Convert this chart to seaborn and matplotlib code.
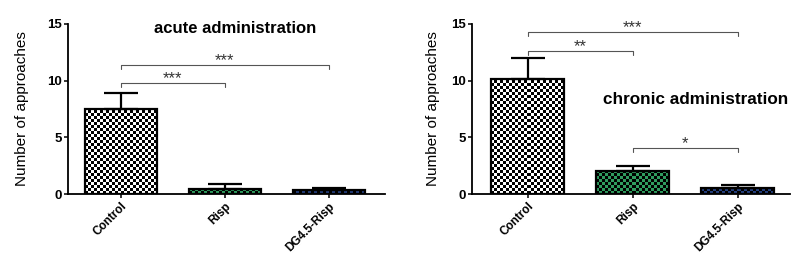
import matplotlib
matplotlib.use('Agg')
import matplotlib.pyplot as plt
import numpy as np
import seaborn as sns

groups = ['Control', 'Risp', 'DG4.5-Risp']

acute_means = [7.5, 0.47, 0.33]
acute_errs = [1.45, 0.41, 0.17]
chronic_means = [10.15, 2.03, 0.56]
chronic_errs = [1.88, 0.47, 0.24]

# (from, to, bracket height, label)
acute_sig = [(0, 1, 9.8, '***'), (0, 2, 11.4, '***')]
chronic_sig = [(0, 2, 14.3, '***'), (0, 1, 12.65, '**'), (1, 2, 4.1, '*')]

face = ['#ffffff', '#2f9c5e', '#24407f']

sns.set_style('ticks')
plt.rcParams['font.family'] = ['Liberation Sans', 'DejaVu Sans']
plt.rcParams['text.color'] = 'black'
plt.rcParams['axes.labelcolor'] = 'black'
plt.rcParams['xtick.color'] = 'black'
plt.rcParams['ytick.color'] = 'black'

fig = plt.figure(figsize=(8, 2.63), dpi=100)
ax1 = fig.add_axes([0.085, 0.262, 0.396, 0.647])
ax2 = fig.add_axes([0.59, 0.262, 0.3975, 0.647])


def checker(ax, patch, color, cell_px=3.0):
    x0, y0 = patch.get_x(), patch.get_y()
    w, h = patch.get_width(), patch.get_height()
    bb = ax.get_window_extent()
    xl, yl = ax.get_xlim(), ax.get_ylim()
    pxx = bb.width / (xl[1] - xl[0])
    pxy = bb.height / (yl[1] - yl[0])
    nx = max(1, int(round(w * pxx / cell_px)))
    ny = max(1, int(round(h * pxy / cell_px)))
    ii, jj = np.meshgrid(np.arange(nx), np.arange(ny))
    mask = (ii + jj) % 2 == 0
    c = np.array(matplotlib.colors.to_rgb(color))
    img = np.zeros((ny, nx, 3))
    img[~mask] = c
    ax.imshow(img, extent=[x0, x0 + w, y0, y0 + ny * cell_px / pxy],
              origin='lower', interpolation='nearest', aspect='auto',
              clip_path=patch, zorder=1.5)


def panel(ax, means, errs, sig, xlim):
    sns.barplot(x=groups, y=means, hue=groups, palette=face, legend=False,
                errorbar=None, width=0.69, edgecolor='black', linewidth=1.6,
                ax=ax, zorder=2)
    ax.set_xlim(*xlim)
    ax.set_ylim(0, 15)
    xs = []
    for p, col in zip(ax.patches, face):
        xs.append(p.get_x() + p.get_width() / 2)
        checker(ax, p, col)
        p.set_facecolor('none')
        p.set_zorder(2)
    ax.set_xlim(*xlim)
    ax.set_ylim(0, 15)
    ax.errorbar(xs, means, yerr=[np.zeros(len(errs)), errs], fmt='none',
                ecolor='black', elinewidth=1.6, capsize=12.5, capthick=1.6,
                zorder=3)
    for i, j, y, lab in sig:
        ax.plot([xs[i], xs[i], xs[j], xs[j]], [y - 0.35, y, y, y - 0.35],
                color='#555555', lw=0.8, clip_on=False)
        ax.text((xs[i] + xs[j]) / 2, y - 0.05, lab, ha='center', va='baseline',
                fontsize=12, color='#333333', clip_on=False)
    sns.despine(ax=ax)
    for s in ('left', 'bottom'):
        ax.spines[s].set_linewidth(1.3)
        ax.spines[s].set_color('black')
    ax.set_yticks([0, 5, 10, 15])
    ax.tick_params(axis='both', length=3, width=1.1, color='black', pad=1.5)
    ax.tick_params(axis='y', labelsize=9.5)
    ax.tick_params(axis='x', labelsize=8.5)
    for t in ax.get_yticklabels():
        t.set_fontweight('bold')
    ax.set_xticks(range(len(groups)))
    ax.set_xticklabels(groups, rotation=45, ha='right', rotation_mode='anchor',
                       fontweight='bold')
    ax.set_ylabel('Number of approaches', fontsize=11)
    return xs


panel(ax1, acute_means, acute_errs, acute_sig, (-0.51, 2.54))
ax1.yaxis.set_label_coords(-0.123, 0.5)
ax1.text(1.1, 14.6, 'acute administration', ha='center', va='center',
         fontsize=12, fontweight='bold')

panel(ax2, chronic_means, chronic_errs, chronic_sig, (-0.53, 2.5))
ax2.yaxis.set_label_coords(-0.10, 0.5)
ax2.text(1.6, 8.3, 'chronic administration', ha='center', va='center',
         fontsize=12.3, fontweight='bold')

fig.savefig('out.png', dpi=100)
